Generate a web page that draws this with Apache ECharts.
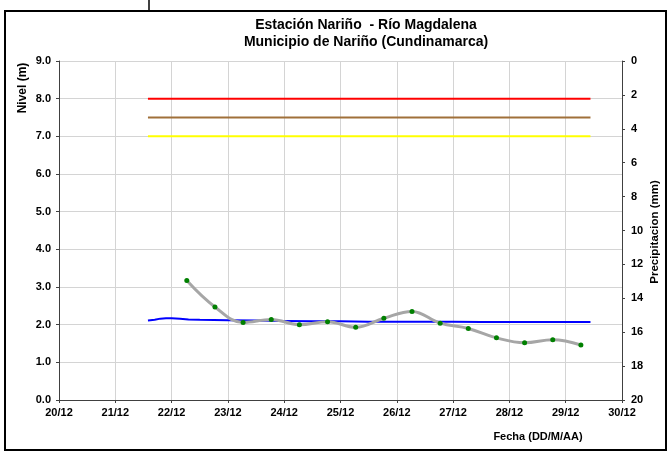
<!DOCTYPE html>
<html>
<head>
<meta charset="utf-8">
<script src="https://cdn.jsdelivr.net/npm/echarts@6/dist/echarts.min.js"></script>
<style>
html,body{margin:0;padding:0;background:#fff;}
#c{width:667px;height:455px;}
</style>
</head>
<body>
<div id="c"></div>
<script>
// ---- data ----
var titleLine1 = 'Estación Nariño  - Río Magdalena';
var titleLine2 = 'Municipio de Nariño (Cundinamarca)';
var xTickLabels = ['20/12','21/12','22/12','23/12','24/12','25/12','26/12','27/12','28/12','29/12','30/12'];
// day (fractional, December) of the continuous level record
var levelDays = [21.58, 21.7, 21.8, 21.9, 22.0, 22.15, 22.3, 22.5, 23.0, 23.5, 24.0, 24.5, 25.0, 25.5, 26.0, 26.5, 27.0, 27.5, 28.0, 28.5, 29.0, 29.44];
var levelValues = [2.11, 2.13, 2.16, 2.17, 2.17, 2.16, 2.14, 2.13, 2.12, 2.11, 2.10, 2.09, 2.09, 2.08, 2.08, 2.08, 2.08, 2.07, 2.07, 2.07, 2.07, 2.07];
// manual readings (gray smoothed line with green points)
var readDays = [22.27, 22.77, 23.27, 23.77, 24.27, 24.77, 25.27, 25.77, 26.27, 26.77, 27.27, 27.77, 28.27, 28.77, 29.27];
var readValues = [3.17, 2.47, 2.06, 2.14, 2.00, 2.08, 1.93, 2.17, 2.35, 2.04, 1.90, 1.65, 1.52, 1.60, 1.46];
// alert thresholds
var thresholdNames = ['Roja', 'Naranja', 'Amarilla'];
var thresholdValues = [8.0, 7.5, 7.0];
var thresholdColors = ['#ff0000', '#a0703a', '#ffff00'];
var thresholdStart = 21.58;
var thresholdEnd = 29.44;

function pairs(xs, ys) { return xs.map(function (x, i) { return [x, ys[i]]; }); }

var series = [];
thresholdValues.forEach(function (v, i) {
  series.push({
    name: thresholdNames[i], type: 'line', data: [[thresholdStart, v], [thresholdEnd, v]],
    showSymbol: false, lineStyle: { color: thresholdColors[i], width: 2 }, z: 3, silent: true
  });
});
series.push({
  name: 'Nivel', type: 'line', data: pairs(levelDays, levelValues),
  showSymbol: false, lineStyle: { color: '#0000ff', width: 2 }, z: 4
});
series.push({
  name: 'Lecturas', type: 'line', data: pairs(readDays, readValues), smooth: 0.4,
  symbol: 'circle', symbolSize: 5, itemStyle: { color: '#008000' },
  lineStyle: { color: '#a6a6a6', width: 3 }, z: 5
});

var FF = '"Liberation Sans", Arial, sans-serif';
var chart = echarts.init(document.getElementById('c'), null, { renderer: 'canvas' });
var lab = { color: '#000', fontFamily: 'Liberation Sans, Arial, sans-serif', fontWeight: 'bold', fontSize: 11 };
chart.setOption({
  animation: false,
  backgroundColor: '#fff',
  grid: { left: 59, right: 45, top: 61, bottom: 55, containLabel: false },
  xAxis: {
    type: 'value', min: 20, max: 30, interval: 1,
    axisLine: { onZero: false, lineStyle: { color: '#404040', width: 1 } },
    axisTick: { show: true, length: 3, lineStyle: { color: '#404040' } },
    axisLabel: Object.assign({ margin: 7, formatter: function (v) { return xTickLabels[Math.round(v - 20)]; } }, lab),
    splitLine: { show: true, lineStyle: { color: '#d4d4d4', width: 1 } }
  },
  yAxis: [{
    type: 'value', min: 0, max: 9, interval: 1, position: 'left',
    axisLine: { show: true, lineStyle: { color: '#404040', width: 1 } },
    axisTick: { show: true, length: 3, lineStyle: { color: '#404040' } },
    axisLabel: Object.assign({ margin: 8, formatter: function (v) { return v.toFixed(1); } }, lab),
    splitLine: { show: true, lineStyle: { color: '#d4d4d4', width: 1 } }
  }, {
    type: 'value', min: 0, max: 20, interval: 2, inverse: true, position: 'right',
    axisLine: { show: true, lineStyle: { color: '#404040', width: 1 } },
    axisTick: { show: true, inside: false, length: 3, lineStyle: { color: '#404040' } },
    axisLabel: Object.assign({ margin: 9 }, lab),
    splitLine: { show: false }
  }],
  series: series,
  graphic: [
    { type: 'rect', shape: { x: 5, y: 11, width: 661, height: 439 }, style: { fill: 'none', stroke: '#000', lineWidth: 2 }, silent: true },
    { type: 'line', shape: { x1: 149, y1: 0, x2: 149, y2: 10 }, style: { stroke: '#000', lineWidth: 1.5 } },
    { type: 'text', x: 366, y: 25, style: { text: titleLine1, align: 'center', verticalAlign: 'middle', font: 'bold 14px ' + FF, fill: '#000' } },
    { type: 'text', x: 366, y: 42, style: { text: titleLine2, align: 'center', verticalAlign: 'middle', font: 'bold 14px ' + FF, fill: '#000' } },
    { type: 'text', x: 23, y: 88, rotation: Math.PI / 2, style: { text: 'Nivel (m)', align: 'center', verticalAlign: 'middle', font: 'bold 12px ' + FF, fill: '#000' } },
    { type: 'text', x: 655, y: 232, rotation: Math.PI / 2, style: { text: 'Precipitacion (mm)', align: 'center', verticalAlign: 'middle', font: 'bold 11.5px ' + FF, fill: '#000' } },
    { type: 'text', x: 538, y: 437, style: { text: 'Fecha (DD/M/AA)', align: 'center', verticalAlign: 'middle', font: 'bold 11px ' + FF, fill: '#000' } }
  ]
});
</script>
</body>
</html>
